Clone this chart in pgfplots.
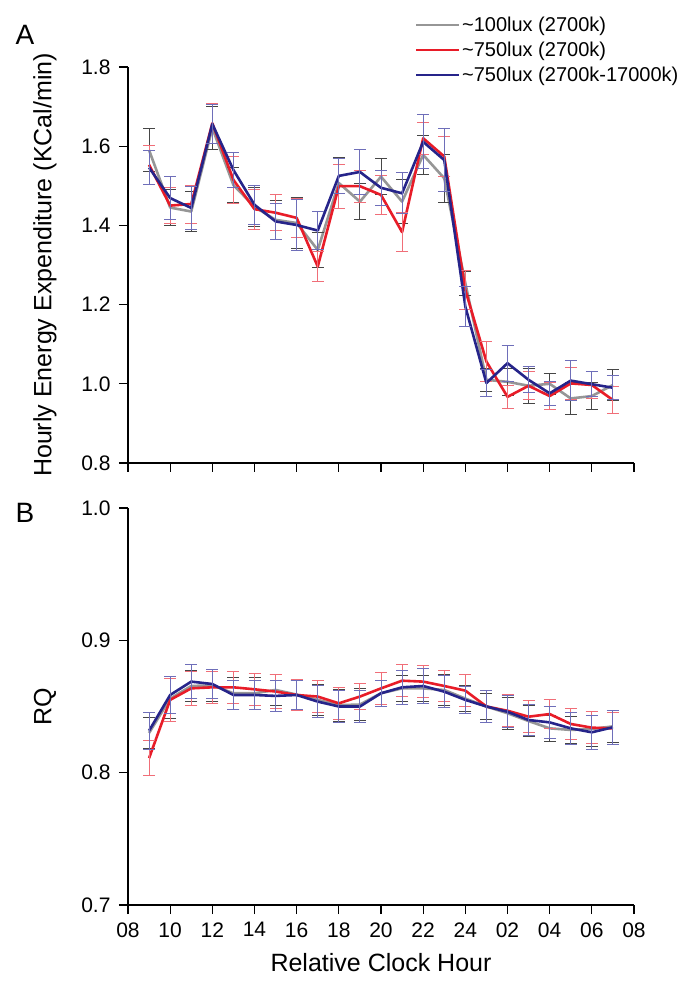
\documentclass[border=0pt]{standalone}
\usepackage{fontspec}
\setmainfont{Liberation Sans}
\usepackage{pgfplots}
\usepackage{pgfplotstable}
\pgfplotsset{compat=1.18}
\definecolor{cgray}{RGB}{150,150,150}
\definecolor{cgrayerr}{RGB}{70,70,70}
\definecolor{cred}{RGB}{232,28,40}
\definecolor{crederr}{RGB}{240,110,120}
\definecolor{cblue}{RGB}{38,36,138}
\definecolor{cblueerr}{RGB}{110,110,185}

\pgfplotstableread{
h  g      ge     r      re     b      be
9  1.590  0.055  1.553  0.050  1.546  0.043
10 1.445  0.045  1.450  0.045  1.469  0.055
11 1.435  0.050  1.454  0.048  1.444  0.055
12 1.646  0.055  1.658  0.050  1.656  0.050
13 1.502  0.045  1.515  0.060  1.540  0.045
14 1.447  0.050  1.441  0.050  1.452  0.050
15 1.414  0.050  1.432  0.045  1.410  0.045
16 1.406  0.065  1.419  0.050  1.401  0.065
17 1.338  0.045  1.296  0.038  1.387  0.048
18 1.507  0.065  1.499  0.055  1.525  0.045
19 1.460  0.045  1.499  0.040  1.535  0.058
20 1.523  0.045  1.477  0.050  1.495  0.045
21 1.460  0.055  1.383  0.050  1.481  0.052
22 1.578  0.050  1.620  0.040  1.611  0.068
23 1.519  0.060  1.574  0.050  1.565  0.080
24 1.254  0.030  1.237  0.050  1.195  0.050
25 1.010  0.030  1.056  0.050  1.002  0.035
26 1.005  0.035  0.967  0.030  1.052  0.046
27 0.995  0.045  0.995  0.035  1.010  0.033
28 1.000  0.027  0.969  0.035  0.976  0.030
29 0.963  0.040  1.001  0.040  1.008  0.050
30 0.969  0.035  0.997  0.035  0.999  0.032
31 0.997  0.040  0.959  0.035  0.990  0.030
}\eetable

\pgfplotstableread{
h  g       ge     r       re     b       be
9  0.8300  0.012  0.8110  0.013  0.8317  0.014
10 0.8560  0.015  0.8550  0.016  0.8587  0.014
11 0.8655  0.012  0.8637  0.013  0.8688  0.013
12 0.8660  0.012  0.8645  0.012  0.8670  0.011
13 0.8600  0.012  0.8645  0.012  0.8587  0.011
14 0.8600  0.012  0.8630  0.012  0.8587  0.011
15 0.8625  0.012  0.8613  0.013  0.8580  0.012
16 0.8590  0.011  0.8587  0.012  0.8587  0.011
17 0.8550  0.012  0.8575  0.012  0.8537  0.012
18 0.8510  0.012  0.8524  0.012  0.8500  0.012
19 0.8515  0.012  0.8575  0.010  0.8500  0.012
20 0.8600  0.010  0.8637  0.012  0.8600  0.010
21 0.8637  0.010  0.8695  0.012  0.8645  0.013
22 0.8637  0.010  0.8688  0.012  0.8655  0.013
23 0.8625  0.012  0.8655  0.012  0.8612  0.012
24 0.8560  0.010  0.8620  0.012  0.8550  0.010
25 0.8500  0.010  0.8500  0.012  0.8500  0.012
26 0.8449  0.012  0.8468  0.012  0.8460  0.012
27 0.8390  0.012  0.8423  0.012  0.8398  0.012
28 0.8335  0.010  0.8443  0.011  0.8380  0.012
29 0.8323  0.010  0.8368  0.012  0.8335  0.012
30 0.8330  0.013  0.8340  0.012  0.8305  0.013
31 0.8350  0.012  0.8335  0.012  0.8343  0.013
}\rqtable

\pgfplotsset{
  myaxis/.style={
    scale only axis, width=506pt, anchor=south west,
    xmin=8, xmax=32, xtick={8,10,...,32},
    axis x line*=bottom, axis y line*=left,
    axis line style={line width=1.3pt, -},
    tick align=outside, major tick length=9pt,
    tick style={line width=1.3pt, black},
    every tick label/.append style={font=\fontsize{21}{24}\selectfont},
    yticklabel style={xshift=-5pt},
    xticklabel style={yshift=-5pt},
    every axis y label/.style={at={(axis description cs:-0.164,0.5)}, rotate=90, anchor=center, font=\fontsize{25}{29}\selectfont},
    clip=false,
    legend image code/.code={\draw[#1] (0pt,0pt) -- (43pt,0pt);},
  },
  eg/.style={cgray, line width=2.6pt, line join=round, no marks, forget plot,
    error bars/.cd, y dir=both, y explicit,
    error bar style={line width=0.9pt, cgrayerr},
    error mark options={rotate=90, mark size=6pt, line width=0.9pt, cgrayerr}},
  er/.style={cred, line width=2.6pt, line join=round, no marks, forget plot,
    error bars/.cd, y dir=both, y explicit,
    error bar style={line width=0.9pt, crederr},
    error mark options={rotate=90, mark size=6pt, line width=0.9pt, crederr}},
  eb/.style={cblue, line width=2.6pt, line join=round, no marks, forget plot,
    error bars/.cd, y dir=both, y explicit,
    error bar style={line width=0.9pt, cblueerr},
    error mark options={rotate=90, mark size=6pt, line width=0.9pt, cblueerr}},
}

\begin{document}
\begin{tikzpicture}
\useasboundingbox (0pt,0pt) rectangle (692pt,986pt);

\begin{axis}[myaxis, at={(128pt,523pt)}, height=396pt,
  ymin=0.8, ymax=1.8, ytick={0.8,1.0,1.2,1.4,1.6,1.8},
  yticklabels={0.8,1.0,1.2,1.4,1.6,1.8},
  xticklabels={},
  ylabel={Hourly Energy Expenditure (KCal/min)},
  legend style={at={(axis description cs:0.567,1.133)}, anchor=north west,
    draw=none, fill=none, inner sep=0pt, row sep=5pt,
    font=\fontsize{20}{23}\selectfont,
    /tikz/every even column/.append style={column sep=4pt}},
  legend cell align=left,
]
\addplot[eg] table[x=h, y=g, y error=ge]{\eetable};
\addplot[er] table[x=h, y=r, y error=re]{\eetable};
\addplot[eb] table[x=h, y=b, y error=be]{\eetable};
\addlegendimage{cgray, line width=2pt}
\addlegendentry{\textasciitilde100lux (2700k)}
\addlegendimage{cred, line width=2pt}
\addlegendentry{\textasciitilde750lux (2700k)}
\addlegendimage{cblue, line width=2pt}
\addlegendentry{\textasciitilde750lux (2700k-17000k)}
\end{axis}

\begin{axis}[myaxis, at={(128pt,81pt)}, height=397pt,
  ymin=0.7, ymax=1.0, ytick={0.7,0.8,0.9,1.0},
  yticklabels={0.7,0.8,0.9,1.0},
  xticklabels={08,10,12,14,16,18,20,22,24,02,04,06,08},
  ylabel={RQ},
  xlabel={Relative Clock Hour},
  every axis x label/.style={at={(axis description cs:0.5,-0.1448)}, anchor=center, font=\fontsize{25}{29}\selectfont},
]
\addplot[eg] table[x=h, y=g, y error=ge]{\rqtable};
\addplot[er] table[x=h, y=r, y error=re]{\rqtable};
\addplot[eb] table[x=h, y=b, y error=be]{\rqtable};
\end{axis}

\node[font=\fontsize{28}{32}\selectfont] at (25pt,951pt) {A};
\node[font=\fontsize{28}{32}\selectfont] at (25pt,473pt) {B};
\end{tikzpicture}
\end{document}
